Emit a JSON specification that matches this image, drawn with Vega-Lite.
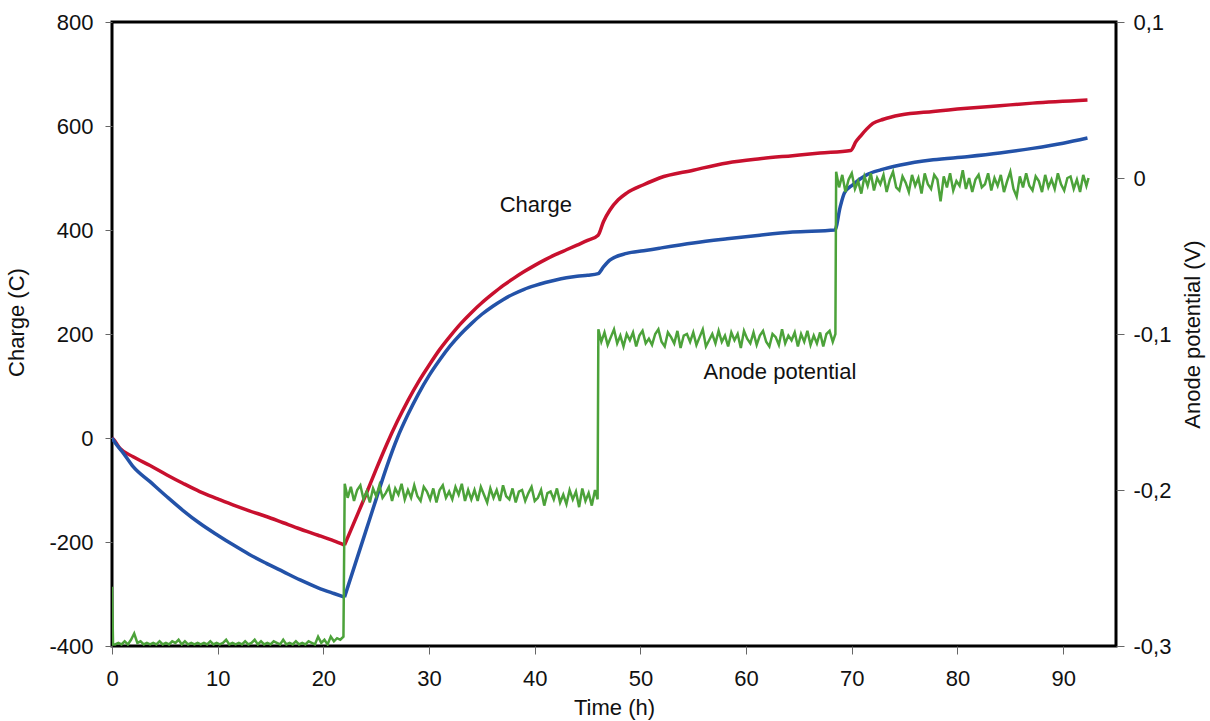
{
"$schema": "https://vega.github.io/schema/vega-lite/v6.json",
"width": 1004, "height": 624,
"autosize": {"type": "none"},
"padding": {"left": 112, "top": 22, "right": 94, "bottom": 75},
"background": "white",
"config": {
  "font": "Liberation Sans",
  "view": {"stroke": "black", "strokeWidth": 3},
  "axis": {"grid": false, "domain": false, "labelFontSize": 22, "titleFontSize": 22, "titleFontWeight": "normal", "labelColor": "#111", "titleColor": "#111", "tickColor": "#666", "tickWidth": 1, "labelFlush": false, "labelOverlap": false, "labelBound": false}
},
"datasets": {
"charge": [
{"t":0,"q":0,"s":"a","g":"a1"},{"t":0.12,"q":-2,"s":"a","g":"a1"},{"t":0.76,"q":-20,"s":"a","g":"a1"},{"t":2.0,"q":-36,"s":"a","g":"a1"},{"t":3.6,"q":-53,"s":"a","g":"a1"},{"t":5.2,"q":-71,"s":"a","g":"a1"},{"t":6.7,"q":-87,"s":"a","g":"a1"},{"t":8.3,"q":-103,"s":"a","g":"a1"},{"t":10,"q":-117,"s":"a","g":"a1"},{"t":11.5,"q":-129,"s":"a","g":"a1"},{"t":13,"q":-140,"s":"a","g":"a1"},{"t":14.6,"q":-151,"s":"a","g":"a1"},{"t":16.2,"q":-163,"s":"a","g":"a1"},{"t":17.8,"q":-175,"s":"a","g":"a1"},{"t":19.5,"q":-187,"s":"a","g":"a1"},{"t":21,"q":-198,"s":"a","g":"a1"},{"t":22,"q":-206,"s":"a","g":"a1"},
{"t":22,"q":-206,"s":"a","g":"a2"},{"t":23,"q":-158,"s":"a","g":"a2"},{"t":24,"q":-110,"s":"a","g":"a2"},{"t":25,"q":-60,"s":"a","g":"a2"},{"t":26,"q":-12,"s":"a","g":"a2"},{"t":27,"q":32,"s":"a","g":"a2"},{"t":28,"q":72,"s":"a","g":"a2"},{"t":29,"q":108,"s":"a","g":"a2"},{"t":30,"q":140,"s":"a","g":"a2"},{"t":31,"q":170,"s":"a","g":"a2"},{"t":32,"q":196,"s":"a","g":"a2"},{"t":33,"q":220,"s":"a","g":"a2"},{"t":34,"q":241,"s":"a","g":"a2"},{"t":35,"q":260,"s":"a","g":"a2"},{"t":36,"q":277,"s":"a","g":"a2"},{"t":37,"q":293,"s":"a","g":"a2"},{"t":38,"q":307,"s":"a","g":"a2"},{"t":39,"q":320,"s":"a","g":"a2"},{"t":40,"q":332,"s":"a","g":"a2"},{"t":41,"q":343,"s":"a","g":"a2"},{"t":42,"q":353,"s":"a","g":"a2"},{"t":43,"q":362,"s":"a","g":"a2"},{"t":44,"q":371,"s":"a","g":"a2"},{"t":45,"q":380,"s":"a","g":"a2"},{"t":46,"q":390,"s":"a","g":"a2"},{"t":46.5,"q":416,"s":"a","g":"a2"},{"t":47.1,"q":438,"s":"a","g":"a2"},{"t":47.9,"q":458,"s":"a","g":"a2"},{"t":48.7,"q":471,"s":"a","g":"a2"},{"t":50.3,"q":487,"s":"a","g":"a2"},{"t":51.8,"q":500,"s":"a","g":"a2"},{"t":55,"q":515,"s":"a","g":"a2"},{"t":58.2,"q":529,"s":"a","g":"a2"},{"t":61.3,"q":537,"s":"a","g":"a2"},{"t":64.4,"q":543,"s":"a","g":"a2"},{"t":67,"q":548,"s":"a","g":"a2"},{"t":69.9,"q":553,"s":"a","g":"a2"},{"t":70.4,"q":570,"s":"a","g":"a2"},{"t":70.8,"q":580,"s":"a","g":"a2"},{"t":71.4,"q":594,"s":"a","g":"a2"},{"t":72,"q":605,"s":"a","g":"a2"},{"t":73,"q":613,"s":"a","g":"a2"},{"t":74.6,"q":621,"s":"a","g":"a2"},{"t":77.7,"q":628,"s":"a","g":"a2"},{"t":80.9,"q":634,"s":"a","g":"a2"},{"t":84,"q":639,"s":"a","g":"a2"},{"t":87.1,"q":644,"s":"a","g":"a2"},{"t":92.3,"q":650,"s":"a","g":"a2"},
{"t":0,"q":0,"s":"b","g":"b1"},{"t":0.4,"q":-12,"s":"b","g":"b1"},{"t":1.07,"q":-29,"s":"b","g":"b1"},{"t":2,"q":-55,"s":"b","g":"b1"},{"t":3.6,"q":-84,"s":"b","g":"b1"},{"t":5.2,"q":-113,"s":"b","g":"b1"},{"t":6.7,"q":-139,"s":"b","g":"b1"},{"t":8.3,"q":-164,"s":"b","g":"b1"},{"t":10,"q":-187,"s":"b","g":"b1"},{"t":11.5,"q":-206,"s":"b","g":"b1"},{"t":13,"q":-224,"s":"b","g":"b1"},{"t":14.6,"q":-241,"s":"b","g":"b1"},{"t":16.2,"q":-257,"s":"b","g":"b1"},{"t":17.8,"q":-273,"s":"b","g":"b1"},{"t":19.5,"q":-288,"s":"b","g":"b1"},{"t":21,"q":-299,"s":"b","g":"b1"},{"t":22,"q":-306,"s":"b","g":"b1"},
{"t":22,"q":-306,"s":"b","g":"b2"},{"t":23,"q":-243,"s":"b","g":"b2"},{"t":24,"q":-180,"s":"b","g":"b2"},{"t":25,"q":-117,"s":"b","g":"b2"},{"t":26,"q":-55,"s":"b","g":"b2"},{"t":27,"q":0,"s":"b","g":"b2"},{"t":28,"q":45,"s":"b","g":"b2"},{"t":29,"q":85,"s":"b","g":"b2"},{"t":30,"q":120,"s":"b","g":"b2"},{"t":31,"q":150,"s":"b","g":"b2"},{"t":32,"q":177,"s":"b","g":"b2"},{"t":33,"q":200,"s":"b","g":"b2"},{"t":34,"q":220,"s":"b","g":"b2"},{"t":35,"q":238,"s":"b","g":"b2"},{"t":36,"q":253,"s":"b","g":"b2"},{"t":37,"q":266,"s":"b","g":"b2"},{"t":38,"q":277,"s":"b","g":"b2"},{"t":39,"q":286,"s":"b","g":"b2"},{"t":40,"q":293,"s":"b","g":"b2"},{"t":41,"q":299,"s":"b","g":"b2"},{"t":42,"q":304,"s":"b","g":"b2"},{"t":43,"q":308,"s":"b","g":"b2"},{"t":44,"q":311,"s":"b","g":"b2"},{"t":45,"q":313,"s":"b","g":"b2"},{"t":46,"q":316,"s":"b","g":"b2"},{"t":46.5,"q":329,"s":"b","g":"b2"},{"t":47.1,"q":342,"s":"b","g":"b2"},{"t":48.7,"q":355,"s":"b","g":"b2"},{"t":50.3,"q":360,"s":"b","g":"b2"},{"t":51.8,"q":365,"s":"b","g":"b2"},{"t":55,"q":375,"s":"b","g":"b2"},{"t":58.2,"q":383,"s":"b","g":"b2"},{"t":61.3,"q":390,"s":"b","g":"b2"},{"t":64.4,"q":396,"s":"b","g":"b2"},{"t":68.4,"q":400,"s":"b","g":"b2"},{"t":68.9,"q":444,"s":"b","g":"b2"},{"t":69.3,"q":471,"s":"b","g":"b2"},{"t":70.1,"q":487,"s":"b","g":"b2"},{"t":71.4,"q":506,"s":"b","g":"b2"},{"t":72.8,"q":516,"s":"b","g":"b2"},{"t":74.6,"q":525,"s":"b","g":"b2"},{"t":77.7,"q":535,"s":"b","g":"b2"},{"t":80.9,"q":541,"s":"b","g":"b2"},{"t":84,"q":548,"s":"b","g":"b2"},{"t":87.1,"q":557,"s":"b","g":"b2"},{"t":90,"q":567,"s":"b","g":"b2"},{"t":92.3,"q":577,"s":"b","g":"b2"}
],
"labels": [
{"t":40.1,"q":448,"label":"Charge"},
{"t":63.2,"q":127,"label":"Anode potential"}
],
"potential": [
{"t":0,"v":-0.262},{"t":0.1,"v":-0.299},{"t":0.3,"v":-0.299},{"t":0.6,"v":-0.298},{"t":0.9,"v":-0.299},{"t":1.2,"v":-0.297},{"t":1.5,"v":-0.299},{"t":1.8,"v":-0.296},{"t":2.1,"v":-0.292},{"t":2.4,"v":-0.298},{"t":2.7,"v":-0.297},{"t":3.0,"v":-0.299},{"t":3.3,"v":-0.298},{"t":3.6,"v":-0.299},{"t":3.9,"v":-0.298},{"t":4.2,"v":-0.299},{"t":4.5,"v":-0.297},{"t":4.8,"v":-0.299},{"t":5.1,"v":-0.298},{"t":5.4,"v":-0.299},{"t":5.7,"v":-0.297},{"t":6.0,"v":-0.298},{"t":6.3,"v":-0.296},{"t":6.6,"v":-0.299},{"t":6.9,"v":-0.297},{"t":7.2,"v":-0.299},{"t":7.5,"v":-0.298},{"t":7.8,"v":-0.299},{"t":8.1,"v":-0.298},{"t":8.4,"v":-0.299},{"t":8.7,"v":-0.298},{"t":9.0,"v":-0.299},{"t":9.3,"v":-0.297},{"t":9.6,"v":-0.299},{"t":9.9,"v":-0.298},{"t":10.2,"v":-0.299},{"t":10.5,"v":-0.298},{"t":10.8,"v":-0.296},{"t":11.1,"v":-0.299},{"t":11.4,"v":-0.298},{"t":11.7,"v":-0.299},{"t":12.0,"v":-0.298},{"t":12.3,"v":-0.299},{"t":12.6,"v":-0.297},{"t":12.9,"v":-0.299},{"t":13.2,"v":-0.298},{"t":13.5,"v":-0.296},{"t":13.8,"v":-0.299},{"t":14.1,"v":-0.297},{"t":14.4,"v":-0.299},{"t":14.7,"v":-0.298},{"t":15.0,"v":-0.299},{"t":15.3,"v":-0.297},{"t":15.6,"v":-0.298},{"t":15.9,"v":-0.299},{"t":16.2,"v":-0.296},{"t":16.5,"v":-0.299},{"t":16.8,"v":-0.298},{"t":17.1,"v":-0.299},{"t":17.4,"v":-0.297},{"t":17.7,"v":-0.299},{"t":18.0,"v":-0.298},{"t":18.3,"v":-0.299},{"t":18.6,"v":-0.297},{"t":18.9,"v":-0.298},{"t":19.2,"v":-0.299},{"t":19.5,"v":-0.294},{"t":19.8,"v":-0.298},{"t":20.1,"v":-0.296},{"t":20.4,"v":-0.299},{"t":20.7,"v":-0.294},{"t":21.0,"v":-0.297},{"t":21.3,"v":-0.295},{"t":21.6,"v":-0.296},{"t":21.9,"v":-0.294},
{"t":22.02,"v":-0.196},{"t":22.3,"v":-0.205},{"t":22.6,"v":-0.198},{"t":22.9,"v":-0.207},{"t":23.2,"v":-0.2},{"t":23.5,"v":-0.197},{"t":23.8,"v":-0.206},{"t":24.1,"v":-0.201},{"t":24.4,"v":-0.208},{"t":24.7,"v":-0.199},{"t":25.0,"v":-0.204},{"t":25.3,"v":-0.197},{"t":25.6,"v":-0.205},{"t":25.9,"v":-0.202},{"t":26.2,"v":-0.198},{"t":26.5,"v":-0.207},{"t":26.8,"v":-0.199},{"t":27.1,"v":-0.203},{"t":27.4,"v":-0.196},{"t":27.7,"v":-0.206},{"t":28.0,"v":-0.2},{"t":28.3,"v":-0.205},{"t":28.6,"v":-0.197},{"t":28.9,"v":-0.204},{"t":29.2,"v":-0.207},{"t":29.5,"v":-0.198},{"t":29.8,"v":-0.201},{"t":30.1,"v":-0.206},{"t":30.4,"v":-0.199},{"t":30.7,"v":-0.208},{"t":31.0,"v":-0.2},{"t":31.3,"v":-0.197},{"t":31.6,"v":-0.205},{"t":31.9,"v":-0.201},{"t":32.2,"v":-0.206},{"t":32.5,"v":-0.198},{"t":32.8,"v":-0.203},{"t":33.1,"v":-0.196},{"t":33.4,"v":-0.207},{"t":33.7,"v":-0.2},{"t":34.0,"v":-0.206},{"t":34.3,"v":-0.2},{"t":34.6,"v":-0.207},{"t":34.9,"v":-0.198},{"t":35.2,"v":-0.203},{"t":35.5,"v":-0.208},{"t":35.8,"v":-0.199},{"t":36.1,"v":-0.205},{"t":36.4,"v":-0.2},{"t":36.7,"v":-0.207},{"t":37.0,"v":-0.197},{"t":37.3,"v":-0.204},{"t":37.6,"v":-0.206},{"t":37.9,"v":-0.199},{"t":38.2,"v":-0.208},{"t":38.5,"v":-0.201},{"t":38.8,"v":-0.2},{"t":39.1,"v":-0.207},{"t":39.4,"v":-0.202},{"t":39.7,"v":-0.198},{"t":40.0,"v":-0.207},{"t":40.3,"v":-0.205},{"t":40.6,"v":-0.2},{"t":40.9,"v":-0.21},{"t":41.2,"v":-0.202},{"t":41.5,"v":-0.201},{"t":41.8,"v":-0.206},{"t":42.1,"v":-0.199},{"t":42.4,"v":-0.208},{"t":42.7,"v":-0.203},{"t":43.0,"v":-0.209},{"t":43.3,"v":-0.2},{"t":43.6,"v":-0.206},{"t":43.9,"v":-0.201},{"t":44.2,"v":-0.211},{"t":44.5,"v":-0.199},{"t":44.8,"v":-0.207},{"t":45.1,"v":-0.202},{"t":45.4,"v":-0.21},{"t":45.7,"v":-0.2},{"t":45.95,"v":-0.206},
{"t":46.02,"v":-0.097},{"t":46.3,"v":-0.105},{"t":46.6,"v":-0.099},{"t":46.9,"v":-0.107},{"t":47.2,"v":-0.102},{"t":47.5,"v":-0.097},{"t":47.8,"v":-0.106},{"t":48.1,"v":-0.101},{"t":48.4,"v":-0.108},{"t":48.7,"v":-0.1},{"t":49.0,"v":-0.104},{"t":49.3,"v":-0.099},{"t":49.6,"v":-0.108},{"t":49.9,"v":-0.101},{"t":50.2,"v":-0.098},{"t":50.5,"v":-0.106},{"t":50.8,"v":-0.103},{"t":51.1,"v":-0.107},{"t":51.4,"v":-0.1},{"t":51.7,"v":-0.097},{"t":52.0,"v":-0.105},{"t":52.3,"v":-0.108},{"t":52.6,"v":-0.099},{"t":52.9,"v":-0.102},{"t":53.2,"v":-0.106},{"t":53.5,"v":-0.098},{"t":53.8,"v":-0.109},{"t":54.1,"v":-0.101},{"t":54.4,"v":-0.1},{"t":54.7,"v":-0.105},{"t":55.0,"v":-0.099},{"t":55.3,"v":-0.107},{"t":55.6,"v":-0.102},{"t":55.9,"v":-0.097},{"t":56.2,"v":-0.108},{"t":56.5,"v":-0.104},{"t":56.8,"v":-0.1},{"t":57.1,"v":-0.106},{"t":57.4,"v":-0.098},{"t":57.7,"v":-0.105},{"t":58.0,"v":-0.101},{"t":58.3,"v":-0.108},{"t":58.6,"v":-0.099},{"t":58.9,"v":-0.104},{"t":59.2,"v":-0.1},{"t":59.5,"v":-0.109},{"t":59.8,"v":-0.098},{"t":60.1,"v":-0.103},{"t":60.4,"v":-0.106},{"t":60.7,"v":-0.099},{"t":61.0,"v":-0.107},{"t":61.3,"v":-0.101},{"t":61.6,"v":-0.098},{"t":61.9,"v":-0.105},{"t":62.2,"v":-0.108},{"t":62.5,"v":-0.1},{"t":62.8,"v":-0.102},{"t":63.1,"v":-0.107},{"t":63.4,"v":-0.097},{"t":63.7,"v":-0.106},{"t":64.0,"v":-0.101},{"t":64.3,"v":-0.104},{"t":64.6,"v":-0.099},{"t":64.9,"v":-0.108},{"t":65.2,"v":-0.1},{"t":65.5,"v":-0.105},{"t":65.8,"v":-0.098},{"t":66.1,"v":-0.107},{"t":66.4,"v":-0.101},{"t":66.7,"v":-0.106},{"t":67.0,"v":-0.099},{"t":67.3,"v":-0.108},{"t":67.6,"v":-0.1},{"t":67.9,"v":-0.098},{"t":68.2,"v":-0.105},{"t":68.45,"v":-0.1},
{"t":68.52,"v":0.004},{"t":68.8,"v":-0.006},{"t":69.1,"v":0.002},{"t":69.4,"v":-0.009},{"t":69.7,"v":-0.001},{"t":70.0,"v":0.003},{"t":70.3,"v":-0.007},{"t":70.6,"v":-0.002},{"t":70.9,"v":-0.01},{"t":71.2,"v":0.001},{"t":71.5,"v":-0.005},{"t":71.8,"v":0.003},{"t":72.1,"v":-0.008},{"t":72.4,"v":0.0},{"t":72.7,"v":-0.004},{"t":73.0,"v":0.002},{"t":73.3,"v":-0.009},{"t":73.6,"v":-0.001},{"t":73.9,"v":0.004},{"t":74.2,"v":-0.006},{"t":74.5,"v":-0.008},{"t":74.8,"v":0.001},{"t":75.1,"v":-0.003},{"t":75.4,"v":-0.009},{"t":75.7,"v":0.002},{"t":76.0,"v":-0.005},{"t":76.3,"v":0.0},{"t":76.6,"v":-0.01},{"t":76.9,"v":0.003},{"t":77.2,"v":-0.004},{"t":77.5,"v":-0.007},{"t":77.8,"v":0.002},{"t":78.1,"v":-0.001},{"t":78.4,"v":-0.015},{"t":78.7,"v":0.001},{"t":79.0,"v":-0.006},{"t":79.3,"v":0.003},{"t":79.6,"v":-0.008},{"t":79.9,"v":-0.002},{"t":80.2,"v":-0.005},{"t":80.5,"v":0.005},{"t":80.8,"v":-0.007},{"t":81.1,"v":0.0},{"t":81.4,"v":-0.009},{"t":81.7,"v":-0.001},{"t":82.0,"v":0.002},{"t":82.3,"v":-0.006},{"t":82.6,"v":-0.004},{"t":82.9,"v":0.003},{"t":83.2,"v":-0.008},{"t":83.5,"v":0.0},{"t":83.8,"v":-0.005},{"t":84.1,"v":0.002},{"t":84.4,"v":-0.009},{"t":84.7,"v":-0.002},{"t":85.0,"v":0.004},{"t":85.3,"v":-0.007},{"t":85.6,"v":-0.012},{"t":85.9,"v":0.001},{"t":86.2,"v":-0.006},{"t":86.5,"v":0.003},{"t":86.8,"v":-0.005},{"t":87.1,"v":-0.008},{"t":87.4,"v":0.001},{"t":87.7,"v":-0.002},{"t":88.0,"v":-0.009},{"t":88.3,"v":0.002},{"t":88.6,"v":-0.006},{"t":88.9,"v":-0.001},{"t":89.2,"v":-0.007},{"t":89.5,"v":0.003},{"t":89.8,"v":-0.004},{"t":90.1,"v":-0.008},{"t":90.4,"v":0.0},{"t":90.7,"v":0.001},{"t":91.0,"v":-0.007},{"t":91.3,"v":-0.001},{"t":91.6,"v":-0.009},{"t":91.9,"v":0.002},{"t":92.2,"v":-0.005},{"t":92.4,"v":0.0}
]
},
"encoding": {
  "x": {"field": "t", "type": "quantitative", "scale": {"domain": [0, 95], "nice": false, "zero": false},
        "axis": {"title": "Time (h)", "values": [0,10,20,30,40,50,60,70,80,90], "tickSize": 8, "labelPadding": 14, "titlePadding": 8}}
},
"layer": [
  {"layer": [
    {"data": {"name": "charge"},
     "mark": {"type": "line", "strokeWidth": 3.5, "clip": true, "interpolate": "monotone"},
     "encoding": {
       "y": {"field": "q", "type": "quantitative", "scale": {"domain": [-400, 800], "nice": false, "zero": false},
             "axis": {"orient": "left", "title": "Charge (C)", "values": [-400,-200,0,200,400,600,800], "tickSize": 7, "labelPadding": 12, "titlePadding": 20, "titleY": 300,
                      "labelExpr": "datum.value < 0 ? '-' + format(-datum.value, 'd') : format(datum.value, 'd')"}},
       "color": {"field": "s", "type": "nominal", "scale": {"domain": ["a", "b"], "range": ["#C8102E", "#2352A8"]}, "legend": null},
       "detail": {"field": "g", "type": "nominal"}
     }},
    {"data": {"name": "labels"},
     "mark": {"type": "text", "fontSize": 22, "align": "center", "baseline": "middle", "color": "#111"},
     "encoding": {"y": {"field": "q", "type": "quantitative"}, "text": {"field": "label"}}}
  ]},
  {"data": {"name": "potential"},
   "mark": {"type": "line", "color": "#4CA23A", "strokeWidth": 2.5, "clip": true},
   "encoding": {
     "y": {"field": "v", "type": "quantitative", "scale": {"domain": [-0.3, 0.1], "nice": false, "zero": false},
           "axis": {"orient": "right", "title": "Anode potential (V)", "values": [-0.3,-0.2,-0.1,0,0.1], "tickSize": 8, "labelPadding": 9, "titlePadding": 12, "titleAngle": 270, "titleBaseline": "top",
                    "labelExpr": "(datum.value < -0.00001 ? '-' : '') + replace(format(abs(datum.value), '.1~f'), '.', ',')"}}
   }}
],
"resolve": {"scale": {"y": "independent"}}
}
